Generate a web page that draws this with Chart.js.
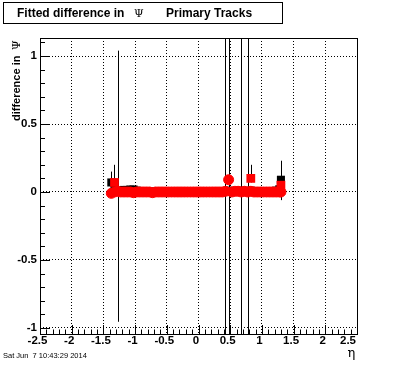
<!DOCTYPE html>
<html>
<head>
<meta charset="utf-8">
<script src="https://cdn.jsdelivr.net/npm/chart.js@4.4.1/dist/chart.umd.min.js"></script>
<style>
html,body{margin:0;padding:0;background:#fff;}
#wrap{width:396px;height:372px;position:relative;}
</style>
</head>
<body>
<div id="wrap"><canvas id="c" width="396" height="372"></canvas></div>
<script>
// ---- data ----
const chartTitle = ["Fitted difference in", "\u03A8", "Primary Tracks"];
const xTitle = "\u03B7";
const yTitle = ["difference in", "\u03A8"];
const stamp = "Sat Jun  7 10:43:29 2014";

const etaBins = [-1.375,-1.325,-1.275,-1.225,-1.175,-1.125,-1.075,-1.025,-0.975,-0.925,
  -0.875,-0.825,-0.775,-0.725,-0.675,-0.625,-0.575,-0.525,-0.475,-0.425,
  -0.375,-0.325,-0.275,-0.225,-0.175,-0.125,-0.075,-0.025,0.025,0.075,
  0.125,0.175,0.225,0.275,0.325,0.375,0.425,0.475,0.525,0.575,
  0.625,0.675,0.725,0.775,0.825,0.875,0.925,0.975,1.025,1.075,
  1.125,1.175,1.225,1.275,1.300];

// black series (drawn underneath)
const blackVals = [0.070,0.020,0.010,0.010,0.015,0.015,0.018,0.018,0.010,0.005,
  0.005,0.005,0.000,0.005,0.000,0.000,0.005,0.000,0.000,0.000,
  0.000,0.000,0.000,0.000,0.000,0.000,0.000,0.000,0.000,0.000,
  0.000,0.000,0.000,0.000,0.000,0.000,0.005,0.010,0.005,0.005,
  0.005,0.010,0.005,0.005,0.010,0.005,0.005,0.005,0.005,0.005,
  0.005,0.005,0.010,0.020,0.090];

// red circles (on top)
const redVals = [-0.010,0.000,0.005,0.000,0.000,0.000,0.000,-0.005,0.000,0.000,
  0.000,0.000,0.000,-0.005,0.000,0.000,0.000,0.000,0.000,0.000,
  0.000,0.000,0.000,0.000,0.000,0.000,0.000,0.000,0.000,0.000,
  0.000,0.000,0.000,0.000,0.000,0.000,0.005,0.090,0.000,0.005,
  0.005,0.000,0.005,0.000,0.005,0.000,0.000,0.000,0.000,0.000,
  0.000,0.000,0.000,0.000,0.000];

// red square markers
const redSqEta = [-1.325, 0.825, 1.300];
const redSqVals = [0.070, 0.100, 0.050];

// visible error bars
const errEta  = [-1.375,-1.325,-1.275, 0.425, 0.475, 0.675, 0.775, 0.825, 1.300];
const errLow  = [-0.030,-0.020,-0.955,-1.200,-1.200,-1.200,-1.200, 0.070,-0.060];
const errHigh = [ 0.150, 0.200, 1.040, 1.200, 1.200, 1.200, 1.200, 0.200, 0.230];

const xTickVals = [-2.5,-2,-1.5,-1,-0.5,0,0.5,1,1.5,2,2.5];
const xTickLabels = ["-2.5","-2","-1.5","-1","-0.5","0","0.5","1","1.5","2","2.5"];
const yTickVals = [-1,-0.5,0,0.5,1];

// ---- build ----
const pts = (xs, ys) => xs.map((x, i) => ({x: x, y: ys[i]}));
const LABEL_FONT = 'bold 11.5px "Liberation Sans", Arial, sans-serif';

const rootStyle = {
  id: 'rootStyle',
  beforeDatasetsDraw(chart) {
    const {ctx, chartArea: a, scales: {x, y}} = chart;
    ctx.save();
    ctx.beginPath();
    ctx.rect(a.left, a.top, a.right - a.left, a.bottom - a.top);
    ctx.clip();
    ctx.strokeStyle = '#000';
    ctx.lineWidth = 1;
    errEta.forEach((e, i) => {
      const px = Math.round(x.getPixelForValue(e)) + 0.5;
      ctx.beginPath();
      ctx.moveTo(px, y.getPixelForValue(errHigh[i]));
      ctx.lineTo(px, y.getPixelForValue(errLow[i]));
      ctx.stroke();
    });
    ctx.restore();
  },
  afterDraw(chart) {
    const {ctx, chartArea: a, scales: {x, y}} = chart;
    ctx.save();
    ctx.strokeStyle = '#000';
    ctx.lineWidth = 1;
    // frame
    ctx.strokeRect(Math.round(a.left) + 0.5, Math.round(a.top) + 0.5,
                   Math.round(a.right - a.left), Math.round(a.bottom - a.top));
    // x ticks (major 0.5, minor 0.1)
    ctx.beginPath();
    for (let k = -25; k <= 25; k++) {
      const v = k / 10;
      const px = Math.round(x.getPixelForValue(v)) + 0.5;
      const len = (k % 5 === 0) ? 9 : 4.5;
      ctx.moveTo(px, a.bottom);
      ctx.lineTo(px, a.bottom - len);
    }
    // y ticks
    for (let k = -10; k <= 11; k++) {
      const v = k / 10;
      const py = Math.round(y.getPixelForValue(v)) + 0.5;
      const len = (k % 5 === 0) ? 10 : 5;
      ctx.moveTo(a.left, py);
      ctx.lineTo(a.left + len, py);
    }
    ctx.stroke();

    // x tick labels (ROOT style: slightly left of the tick, last one kept inside)
    ctx.fillStyle = '#000';
    ctx.font = LABEL_FONT;
    ctx.textBaseline = 'top';
    xTickVals.forEach((v, i) => {
      const px = x.getPixelForValue(v);
      if (i === xTickVals.length - 1) {
        ctx.textAlign = 'right';
        ctx.fillText(xTickLabels[i], px - 1, a.bottom + 1.5);
      } else {
        ctx.textAlign = 'center';
        ctx.fillText(xTickLabels[i], px - 2.5, a.bottom + 1.5);
      }
    });

    // title box
    ctx.textBaseline = 'alphabetic';
    ctx.strokeRect(3.5, 2.5, 279, 21);
    ctx.textAlign = 'left';
    ctx.font = 'bold 12px "Liberation Sans", Arial, sans-serif';
    ctx.fillText(chartTitle[0], 17, 17);
    ctx.fillText(chartTitle[2], 166, 17);
    ctx.font = '11px "DejaVu Serif", serif';
    ctx.fillText(chartTitle[1], 134, 17);

    // x title
    ctx.font = '13px "DejaVu Serif", serif';
    ctx.textAlign = 'center';
    ctx.fillText(xTitle, 351.5, 357);

    // y title (rotated)
    ctx.save();
    ctx.translate(19.5, 121);
    ctx.rotate(-Math.PI / 2);
    ctx.textAlign = 'left';
    ctx.font = 'bold 11px "Liberation Sans", Arial, sans-serif';
    ctx.fillText(yTitle[0], 0, 0);
    ctx.font = '11px "DejaVu Serif", serif';
    ctx.fillText(yTitle[1], 71, 0);
    ctx.restore();

    // date stamp
    ctx.textAlign = 'left';
    ctx.font = '7.5px "Liberation Sans", Arial, sans-serif';
    ctx.fillText(stamp, 3, 358);
    ctx.restore();
  }
};

new Chart(document.getElementById('c'), {
  type: 'scatter',
  data: {
    datasets: [
      {
        label: 'red',
        data: pts(etaBins, redVals),
        pointStyle: 'circle',
        pointRadius: 5,
        borderWidth: 1,
        backgroundColor: '#ff0000',
        borderColor: '#ff0000',
        order: 0
      },
      {
        label: 'red squares',
        data: pts(redSqEta, redSqVals),
        pointStyle: 'rect',
        pointRadius: 6.2,
        borderWidth: 0,
        backgroundColor: '#ff0000',
        borderColor: '#ff0000',
        order: 1
      },
      {
        label: 'black',
        data: pts(etaBins, blackVals),
        pointStyle: 'rect',
        pointRadius: 5.7,
        borderWidth: 0,
        backgroundColor: '#000000',
        borderColor: '#000000',
        order: 2
      }
    ]
  },
  options: {
    responsive: false,
    animation: false,
    events: [],
    layout: {padding: {left: 0, top: 38, right: 39, bottom: 0}},
    plugins: {legend: {display: false}, tooltip: {enabled: false}, title: {display: false}},
    scales: {
      x: {
        type: 'linear',
        min: -2.5, max: 2.5,
        afterFit: s => { s.height = 38; },
        afterBuildTicks: s => { s.ticks = xTickVals.map(v => ({value: v})); },
        ticks: {display: false},
        grid: {color: '#000', lineWidth: 1, drawTicks: false},
        border: {display: false, dash: [1, 2]}
      },
      y: {
        type: 'linear',
        min: -1.045, max: 1.133,
        afterFit: s => { s.width = 40; },
        afterBuildTicks: s => { s.ticks = yTickVals.map(v => ({value: v})); },
        ticks: {
          padding: 3,
          color: '#000',
          autoSkip: false,
          font: {family: '"Liberation Sans", Arial, sans-serif', size: 11.5, weight: 'bold'},
          callback: v => String(v)
        },
        grid: {color: '#000', lineWidth: 1, drawTicks: false},
        border: {display: false, dash: [1, 2]}
      }
    }
  },
  plugins: [rootStyle]
});
</script>
</body>
</html>
